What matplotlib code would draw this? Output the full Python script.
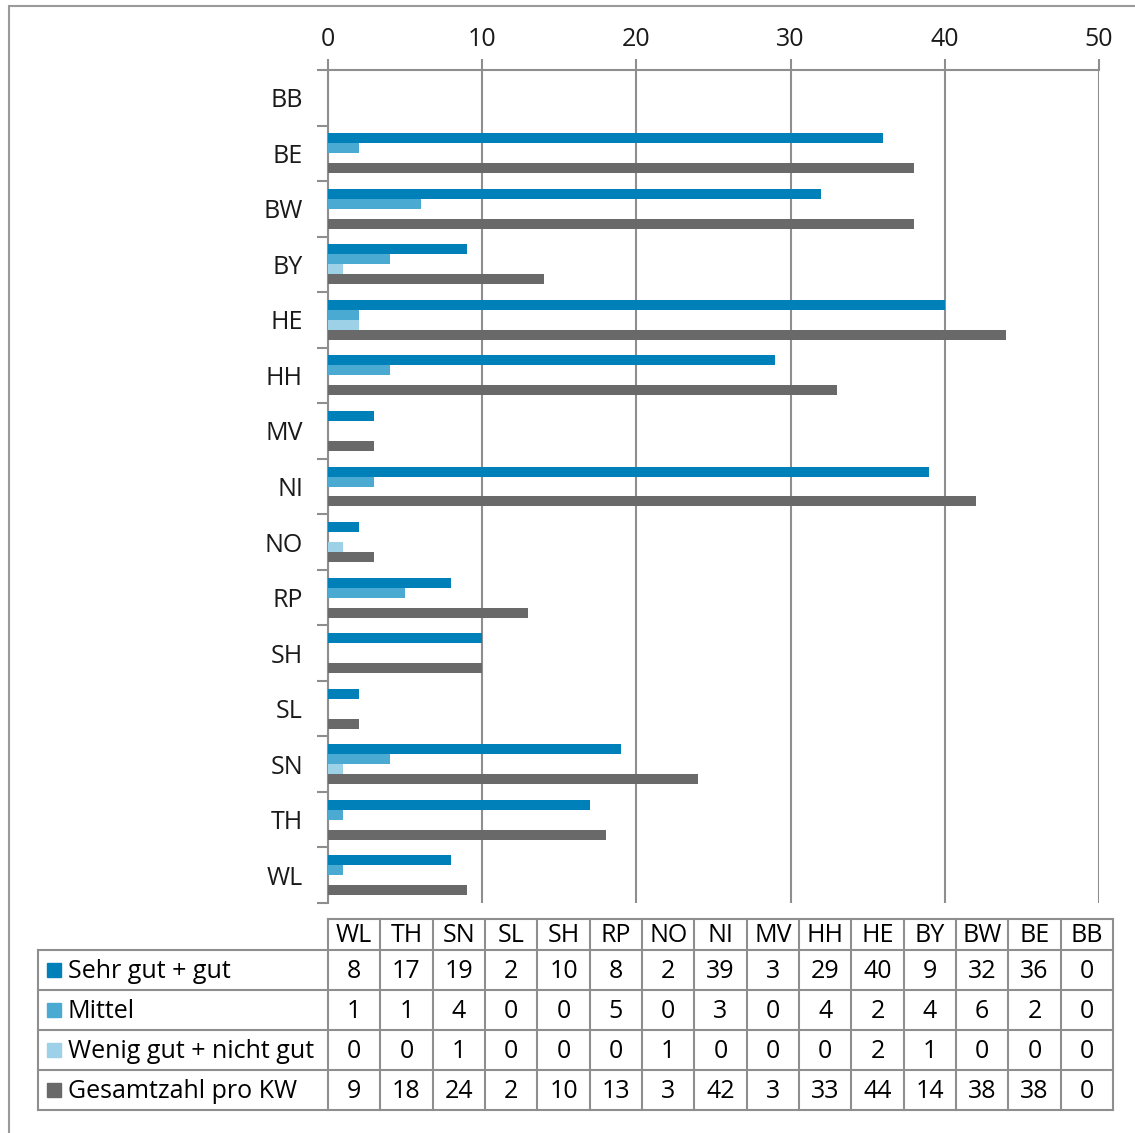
import matplotlib
matplotlib.use('Agg')
import matplotlib.pyplot as plt
import numpy as np
from matplotlib.patches import Rectangle

plt.rcParams['font.family'] = ['Open Sans', 'DejaVu Sans']
plt.rcParams['font.size'] = 18

# DATA (table order, bottom of chart first)
laender = ['WL', 'TH', 'SN', 'SL', 'SH', 'RP', 'NO', 'NI', 'MV', 'HH', 'HE', 'BY', 'BW', 'BE', 'BB']
sehr_gut = [8, 17, 19, 2, 10, 8, 2, 39, 3, 29, 40, 9, 32, 36, 0]
mittel = [1, 1, 4, 0, 0, 5, 0, 3, 0, 4, 2, 4, 6, 2, 0]
wenig_gut = [0, 0, 1, 0, 0, 0, 1, 0, 0, 0, 2, 1, 0, 0, 0]
gesamt = [9, 18, 24, 2, 10, 13, 3, 42, 3, 33, 44, 14, 38, 38, 0]
serien = ['Sehr gut + gut', 'Mittel', 'Wenig gut + nicht gut', 'Gesamtzahl pro KW']
farben = ['#0080b8', '#4baad1', '#9dd1e7', '#696969']
xticks = [0, 10, 20, 30, 40, 50]

grau = '#8e8e8e'
W, H = 1135, 1133
fig = plt.figure(figsize=(W/100, H/100), dpi=100)

# frame round the whole thing
fig.patches.append(Rectangle((9/W, -0.1), 1.2, 1 - 6/H + 0.1, transform=fig.transFigure,
                             fill=False, edgecolor='#9a9a9a', linewidth=1.5))

# CHART
ax = fig.add_axes([328/W, 1 - 903/H, (1099-328)/W, (903-70)/H])
y = np.arange(len(laender))
h = 0.18
offs = [1.5*h, 0.5*h, -0.5*h, -1.5*h]
for vals, off, c, lab in zip([sehr_gut, mittel, wenig_gut, gesamt], offs, farben, serien):
    ax.barh(y + off, vals, height=h, color=c, label=lab, zorder=3)

ax.set_xlim(0, 50)
ax.set_ylim(-0.5, len(laender) - 0.5)
ax.xaxis.tick_top()
ax.set_xticks(xticks)
ax.tick_params(axis='x', length=8, width=1.5, color=grau, pad=5, labelsize=18, labelcolor='#1a1a1a')
ax.grid(axis='x', color=grau, linewidth=1.5, zorder=1)
ax.set_yticks(np.arange(-0.5, len(laender), 1.0))
ax.set_yticklabels([])
ax.set_yticks(y, minor=True)
ax.set_yticklabels(laender, minor=True)
ax.tick_params(axis='y', which='major', length=8, width=1.5, color=grau)
ax.tick_params(axis='y', which='minor', length=0, pad=18, labelsize=18, labelcolor='#1a1a1a')
for s in ['bottom', 'right']:
    ax.spines[s].set_visible(False)
for s in ['top', 'left']:
    ax.spines[s].set_color(grau)
    ax.spines[s].set_linewidth(1.5)

# DATA TABLE
tx = fig.add_axes([38/W, 1 - 1110/H, (1113-38)/W, (1110-919)/H])
tx.set_xlim(0, 1075)
tx.set_ylim(191, 0)
tx.axis('off')
lw_col = 290
cw = (1075 - lw_col) / len(laender)
rows = [0, 31, 71, 111, 151, 191]
lkw = dict(color=grau, linewidth=1.5, clip_on=False)
tx.plot([lw_col, 1075], [0, 0], **lkw)
for r in rows[1:]:
    tx.plot([0, 1075], [r, r], **lkw)
tx.plot([0, 0], [rows[1], rows[-1]], **lkw)
for k in range(len(laender) + 1):
    tx.plot([lw_col + k*cw]*2, [0, rows[-1]], **lkw)

for k, l in enumerate(laender):
    tx.text(lw_col + (k+0.5)*cw, rows[0] + 16, l, ha='center', va='center', fontsize=18)
for i, (vals, c, lab) in enumerate(zip([sehr_gut, mittel, wenig_gut, gesamt], farben, serien)):
    ym = (rows[i+1] + rows[i+2]) / 2
    tx.plot([16], [ym], marker='s', markersize=10, color=c, clip_on=False)
    tx.text(30, ym + 1, lab, ha='left', va='center', fontsize=18)
    for k, v in enumerate(vals):
        tx.text(lw_col + (k+0.5)*cw, ym + 1, str(v), ha='center', va='center', fontsize=18)

fig.savefig('out.png', dpi=100)
